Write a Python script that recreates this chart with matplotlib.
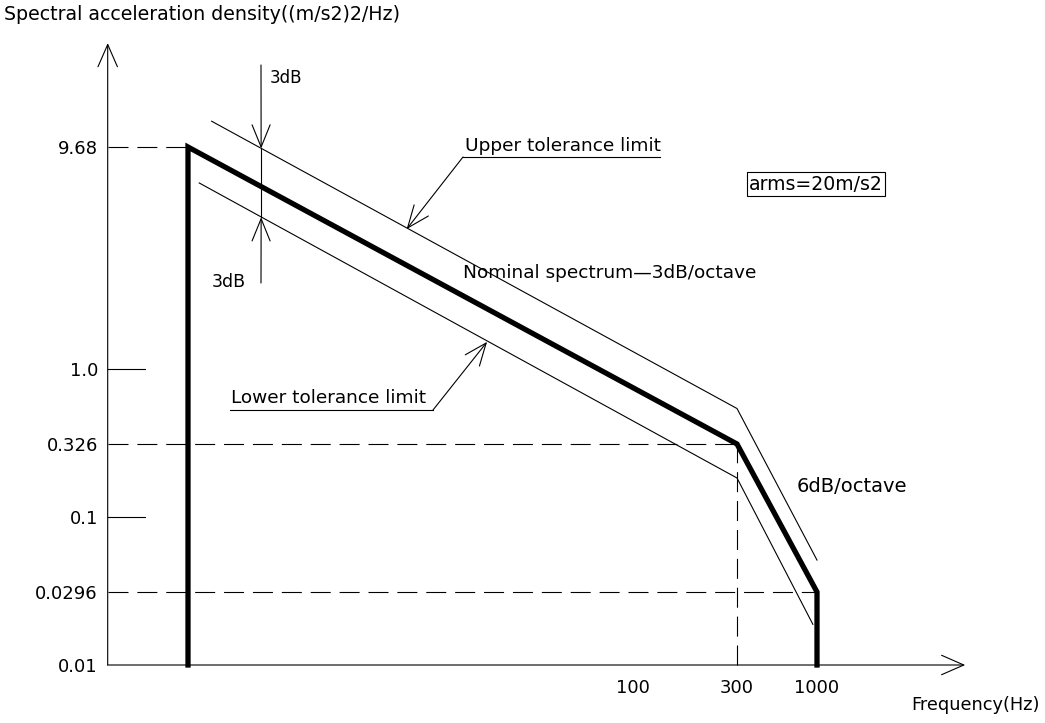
import numpy as np
import matplotlib
matplotlib.use("Agg")
import matplotlib.pyplot as plt

plt.rcParams["font.family"] = ["DejaVu Sans"]

# --- data ---
y_tick_values = [0.01, 0.0296, 0.1, 0.326, 1.0, 9.68]
y_tick_labels = ["0.01", "0.0296", "0.1", "0.326", "1.0", "9.68"]
x_tick_values = [100, 300, 1000]
x_tick_labels = ["100", "300", "1000"]

nominal_freq = [10, 10, 300, 1000, 1000]
nominal_psd = [0.01, 9.68, 0.326, 0.0296, 0.01]
upper_freq = [11.3, 300, 1000]
upper_psd = [12.6, 0.554, 0.0497]
lower_freq = [10.6, 300, 940]
lower_psd = [6.7, 0.188, 0.0183]

x_origin, y_origin = 6.6, 0.01
x_end, y_end = 9300, 28.0

# the drawing is schematic: log axes with uneven spacing between labelled values
x_scale_values = [10, 100, 300, 1000]
x_scale_pos = [188, 633, 737, 817]
y_scale_values = y_tick_values
y_scale_pos = [58, 131, 206, 279, 354, 576]

W, H = 1045, 723


def schematic(values, pos):
    lk = np.log10(values)
    pk = np.asarray(pos, dtype=float)
    s0 = (pk[1] - pk[0]) / (lk[1] - lk[0])
    s1 = (pk[-1] - pk[-2]) / (lk[-1] - lk[-2])

    def fwd(v):
        with np.errstate(divide="ignore", invalid="ignore"):
            l = np.log10(np.clip(np.asarray(v, dtype=float), 1e-30, None))
        out = np.interp(l, lk, pk)
        out = np.where(l < lk[0], pk[0] + (l - lk[0]) * s0, out)
        out = np.where(l > lk[-1], pk[-1] + (l - lk[-1]) * s1, out)
        return out

    def inv(p):
        p = np.asarray(p, dtype=float)
        l = np.interp(p, pk, lk)
        l = np.where(p < pk[0], lk[0] + (p - pk[0]) / s0, l)
        l = np.where(p > pk[-1], lk[-1] + (p - pk[-1]) / s1, l)
        return 10 ** l

    return fwd, inv


def P(x, y):
    # pixel position on the sheet -> figure fraction
    return (x / W, 1 - y / H)


fig = plt.figure(figsize=(W / 100, H / 100), dpi=100)
ax = fig.add_axes([0, 0, 1, 1])

fx, ix = schematic(x_scale_values, x_scale_pos)
fy, iy = schematic(y_scale_values, y_scale_pos)
ax.set_xscale("function", functions=(fx, ix))
ax.set_yscale("function", functions=(fy, iy))
ax.set_xlim(float(ix(0)), float(ix(W)))
ax.set_ylim(float(iy(0)), float(iy(H)))

for s in ax.spines.values():
    s.set_visible(False)
ax.spines["left"].set_position(("data", x_origin))
ax.spines["bottom"].set_position(("data", y_origin))
ax.set_yticks(y_tick_values, y_tick_labels)
ax.set_xticks(x_tick_values, x_tick_labels)
ax.tick_params(axis="y", length=0, pad=7, labelsize=13)
ax.tick_params(axis="x", length=0, pad=10, labelsize=13)

thin = 0.8
arrow_axis = dict(arrowstyle="->,head_length=1.6,head_width=0.7", lw=thin,
                  color="black", shrinkA=0, shrinkB=0)
ax.annotate("", xy=(x_origin, y_end), xytext=(x_origin, y_origin), arrowprops=arrow_axis)
ax.annotate("", xy=(x_end, y_origin), xytext=(x_origin, y_origin), arrowprops=arrow_axis)

# guide lines
dash = (0, (18, 8))
ax.plot([x_origin, nominal_freq[1]], [nominal_psd[1]] * 2, color="black", lw=thin, ls=dash)
ax.plot([x_origin, nominal_freq[2]], [nominal_psd[2]] * 2, color="black", lw=thin, ls=dash)
ax.plot([x_origin, nominal_freq[3]], [nominal_psd[3]] * 2, color="black", lw=thin, ls=dash)
ax.plot([nominal_freq[2]] * 2, [y_origin, nominal_psd[2]], color="black", lw=thin, ls=dash)
for v in [1.0, 0.1]:
    ax.plot([x_origin, 8.0], [v, v], color="black", lw=thin)

# spectrum and tolerance band
ax.plot(upper_freq, upper_psd, color="black", lw=thin)
ax.plot(lower_freq, lower_psd, color="black", lw=thin)
ax.plot(nominal_freq, nominal_psd, color="black", lw=3.8, solid_joinstyle="miter")

# 3dB dimension
dim_f, dim_top, dim_bot = 14.6, 9.53, 4.72
leader = dict(arrowstyle="->,head_length=1.6,head_width=0.65", lw=thin,
              color="black", shrinkA=0, shrinkB=0)
ax.plot([dim_f, dim_f], [dim_bot, dim_top], color="black", lw=thin)
ax.annotate("", xy=(dim_f, dim_top), xytext=P(261, 65), textcoords="figure fraction",
            arrowprops=leader)
ax.annotate("", xy=(dim_f, dim_bot), xytext=P(261, 283), textcoords="figure fraction",
            arrowprops=leader)

tfs = 13.3
fig.text(*P(270, 78), "3dB", fontsize=12, va="center", ha="left")
fig.text(*P(212, 282), "3dB", fontsize=12.5, va="center", ha="left")

# leaders to tolerance lines
ax.annotate("", xy=(31.0, 4.18), xytext=P(463, 157), textcoords="figure fraction",
            arrowprops=leader)
fig.add_artist(plt.Line2D([463 / W, 660 / W], [1 - 157 / H] * 2, color="black", lw=thin))
fig.text(*P(465, 146), "Upper tolerance limit", fontsize=tfs, va="center", ha="left")

ax.annotate("", xy=(47.0, 1.32), xytext=P(433, 410), textcoords="figure fraction",
            arrowprops=leader)
fig.add_artist(plt.Line2D([230 / W, 433 / W], [1 - 410 / H] * 2, color="black", lw=thin))
fig.text(*P(231, 398), "Lower tolerance limit", fontsize=tfs, va="center", ha="left")

fig.text(*P(463, 273), "Nominal spectrum\u20143dB/octave", fontsize=tfs, va="center", ha="left")
fig.text(*P(797, 487), "6dB/octave", fontsize=14, va="center", ha="left")
fig.text(*P(816, 184), "arms=20m/s2", fontsize=13.6, va="center", ha="center",
         bbox=dict(boxstyle="square,pad=0.12", fc="white", ec="black", lw=thin))

fig.text(*P(4, 15), "Spectral acceleration density((m/s2)2/Hz)", fontsize=13.7,
         va="center", ha="left")
fig.text(*P(1040, 705), "Frequency(Hz)", fontsize=12.8, va="center", ha="right")

fig.savefig("out.png", dpi=100, facecolor="white")
